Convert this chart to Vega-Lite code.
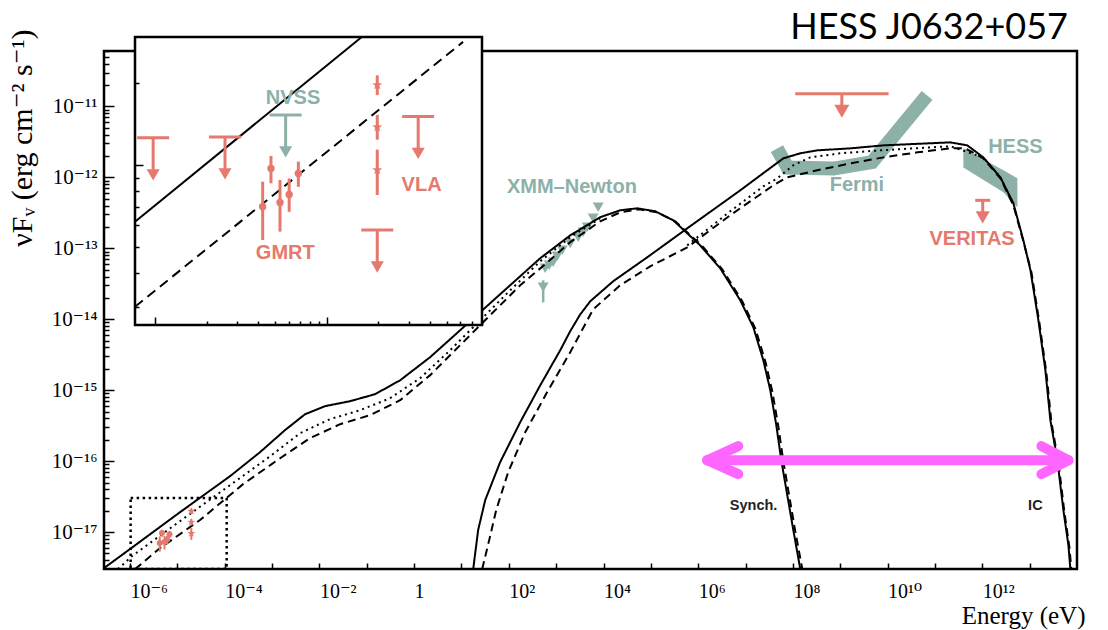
{
  "$schema": "https://vega.github.io/schema/vega-lite/v6.json",
  "width": 973,
  "height": 518,
  "autosize": "none",
  "padding": {"left": 104, "top": 51, "right": 31, "bottom": 61},
  "background": "white",
  "title": {"text": "HESS J0632+057", "anchor": "end", "frame": "group", "orient": "top", "offset": -46, "dx": -9, "fontSize": 36, "font": "Lato", "fontWeight": "normal", "color": "black", "baseline": "alphabetic"},
  "config": {
    "view": {"stroke": "black", "strokeWidth": 2.5},
    "axis": {"grid": false, "domain": false, "tickColor": "black", "labelColor": "black", "labelFont": "Liberation Serif, DejaVu Serif", "titleFont": "Liberation Serif, DejaVu Serif", "titleFontWeight": "normal", "titleColor": "black", "labelFlush": false, "labelOverlap": false, "labelBound": false}
  },
  "datasets": {
    "models": [
      {"comp": "synch", "style": "solid", "E": 2.82e-7, "F": 3.11e-18},
      {"comp": "synch", "style": "solid", "E": 1.00e-6, "F": 5.77e-18},
      {"comp": "synch", "style": "solid", "E": 1.14e-5, "F": 1.91e-17},
      {"comp": "synch", "style": "solid", "E": 1.30e-4, "F": 6.15e-17},
      {"comp": "synch", "style": "solid", "E": 5.58e-4, "F": 1.34e-16},
      {"comp": "synch", "style": "solid", "E": 1.88e-3, "F": 2.74e-16},
      {"comp": "synch", "style": "solid", "E": 4.98e-3, "F": 4.59e-16},
      {"comp": "synch", "style": "solid", "E": 1.32e-2, "F": 5.96e-16},
      {"comp": "synch", "style": "solid", "E": 4.45e-2, "F": 7.00e-16},
      {"comp": "synch", "style": "solid", "E": 0.150, "F": 8.79e-16},
      {"comp": "synch", "style": "solid", "E": 0.507, "F": 1.38e-15},
      {"comp": "synch", "style": "solid", "E": 2.18, "F": 2.92e-15},
      {"comp": "synch", "style": "solid", "E": 9.38, "F": 7.00e-15},
      {"comp": "synch", "style": "solid", "E": 65.6, "F": 2.25e-14},
      {"comp": "synch", "style": "solid", "E": 460, "F": 7.23e-14},
      {"comp": "synch", "style": "solid", "E": 1980, "F": 1.52e-13},
      {"comp": "synch", "style": "solid", "E": 8510, "F": 2.74e-13},
      {"comp": "synch", "style": "solid", "E": 2.25e4, "F": 3.43e-13},
      {"comp": "synch", "style": "solid", "E": 5.15e4, "F": 3.66e-13},
      {"comp": "synch", "style": "solid", "E": 1.24e5, "F": 3.32e-13},
      {"comp": "synch", "style": "solid", "E": 2.97e5, "F": 2.48e-13},
      {"comp": "synch", "style": "solid", "E": 1.10e6, "F": 1.10e-13},
      {"comp": "synch", "style": "solid", "E": 2.92e6, "F": 5.22e-14},
      {"comp": "synch", "style": "solid", "E": 7.73e6, "F": 1.85e-14},
      {"comp": "synch", "style": "solid", "E": 1.46e7, "F": 7.71e-15},
      {"comp": "synch", "style": "solid", "E": 2.37e7, "F": 2.65e-15},
      {"comp": "synch", "style": "solid", "E": 3.33e7, "F": 1.00e-15},
      {"comp": "synch", "style": "solid", "E": 4.46e7, "F": 3.21e-16},
      {"comp": "synch", "style": "solid", "E": 5.68e7, "F": 1.03e-16},
      {"comp": "synch", "style": "solid", "E": 7.60e7, "F": 3.32e-17},
      {"comp": "synch", "style": "solid", "E": 1.02e8, "F": 1.07e-17},
      {"comp": "synch", "style": "solid", "E": 1.43e8, "F": 3.01e-18},

      {"comp": "synch", "style": "dashed", "E": 1.28e-6, "F": 3.01e-18},
      {"comp": "synch", "style": "dashed", "E": 4.31e-6, "F": 5.96e-18},
      {"comp": "synch", "style": "dashed", "E": 3.01e-5, "F": 1.48e-17},
      {"comp": "synch", "style": "dashed", "E": 2.44e-4, "F": 4.74e-17},
      {"comp": "synch", "style": "dashed", "E": 1.48e-3, "F": 1.10e-16},
      {"comp": "synch", "style": "dashed", "E": 6.35e-3, "F": 2.11e-16},
      {"comp": "synch", "style": "dashed", "E": 2.74e-2, "F": 3.32e-16},
      {"comp": "synch", "style": "dashed", "E": 0.118, "F": 4.45e-16},
      {"comp": "synch", "style": "dashed", "E": 0.507, "F": 7.23e-16},
      {"comp": "synch", "style": "dashed", "E": 2.18, "F": 1.63e-15},
      {"comp": "synch", "style": "dashed", "E": 9.38, "F": 4.31e-15},
      {"comp": "synch", "style": "dashed", "E": 40.4, "F": 1.14e-14},
      {"comp": "synch", "style": "dashed", "E": 174, "F": 3.01e-14},
      {"comp": "synch", "style": "dashed", "E": 586, "F": 5.96e-14},
      {"comp": "synch", "style": "dashed", "E": 1980, "F": 1.22e-13},
      {"comp": "synch", "style": "dashed", "E": 8510, "F": 2.40e-13},
      {"comp": "synch", "style": "dashed", "E": 2.25e4, "F": 3.21e-13},
      {"comp": "synch", "style": "dashed", "E": 5.68e4, "F": 3.54e-13},
      {"comp": "synch", "style": "dashed", "E": 1.36e5, "F": 3.21e-13},
      {"comp": "synch", "style": "dashed", "E": 3.27e5, "F": 2.40e-13},
      {"comp": "synch", "style": "dashed", "E": 1.22e6, "F": 1.07e-13},
      {"comp": "synch", "style": "dashed", "E": 3.22e6, "F": 5.06e-14},
      {"comp": "synch", "style": "dashed", "E": 8.51e6, "F": 1.79e-14},
      {"comp": "synch", "style": "dashed", "E": 1.60e7, "F": 7.46e-15},
      {"comp": "synch", "style": "dashed", "E": 2.61e7, "F": 2.56e-15},
      {"comp": "synch", "style": "dashed", "E": 3.66e7, "F": 9.68e-16},
      {"comp": "synch", "style": "dashed", "E": 4.91e7, "F": 3.11e-16},
      {"comp": "synch", "style": "dashed", "E": 6.27e7, "F": 1.00e-16},
      {"comp": "synch", "style": "dashed", "E": 8.38e7, "F": 3.21e-17},
      {"comp": "synch", "style": "dashed", "E": 1.12e8, "F": 1.03e-17},
      {"comp": "synch", "style": "dashed", "E": 1.58e8, "F": 3.01e-18},

      {"comp": "synch", "style": "dotted", "E": 5.57e-7, "F": 3.01e-18},
      {"comp": "synch", "style": "dotted", "E": 1.10e-6, "F": 4.59e-18},
      {"comp": "synch", "style": "dotted", "E": 1.14e-5, "F": 1.43e-17},
      {"comp": "synch", "style": "dotted", "E": 1.30e-4, "F": 4.59e-17},
      {"comp": "synch", "style": "dotted", "E": 9.08e-4, "F": 1.17e-16},
      {"comp": "synch", "style": "dotted", "E": 3.91e-3, "F": 2.48e-16},
      {"comp": "synch", "style": "dotted", "E": 1.68e-2, "F": 3.91e-16},
      {"comp": "synch", "style": "dotted", "E": 7.24e-2, "F": 5.22e-16},
      {"comp": "synch", "style": "dotted", "E": 0.311, "F": 7.71e-16},
      {"comp": "synch", "style": "dotted", "E": 1.34, "F": 1.48e-15},
      {"comp": "synch", "style": "dotted", "E": 5.77, "F": 3.66e-15},
      {"comp": "synch", "style": "dotted", "E": 24.8, "F": 9.68e-15},
      {"comp": "synch", "style": "dotted", "E": 107, "F": 2.56e-14},
      {"comp": "synch", "style": "dotted", "E": 460, "F": 6.56e-14},
      {"comp": "synch", "style": "dotted", "E": 1980, "F": 1.43e-13},
      {"comp": "synch", "style": "dotted", "E": 8510, "F": 2.65e-13},

      {"comp": "ic", "style": "solid", "E": 17.7, "F": 3.01e-18},
      {"comp": "ic", "style": "solid", "E": 22.5, "F": 1.07e-17},
      {"comp": "ic", "style": "solid", "E": 31.7, "F": 2.82e-17},
      {"comp": "ic", "style": "solid", "E": 65.6, "F": 9.68e-17},
      {"comp": "ic", "style": "solid", "E": 174, "F": 3.54e-16},
      {"comp": "ic", "style": "solid", "E": 460, "F": 1.17e-15},
      {"comp": "ic", "style": "solid", "E": 1220, "F": 3.66e-15},
      {"comp": "ic", "style": "solid", "E": 1980, "F": 6.78e-15},
      {"comp": "ic", "style": "solid", "E": 3220, "F": 1.17e-14},
      {"comp": "ic", "style": "solid", "E": 5240, "F": 1.79e-14},
      {"comp": "ic", "style": "solid", "E": 1.60e4, "F": 3.43e-14},
      {"comp": "ic", "style": "solid", "E": 8.38e4, "F": 7.46e-14},
      {"comp": "ic", "style": "solid", "E": 5.86e5, "F": 1.91e-13},
      {"comp": "ic", "style": "solid", "E": 7.73e6, "F": 6.56e-13},
      {"comp": "ic", "style": "solid", "E": 2.88e7, "F": 1.26e-12},
      {"comp": "ic", "style": "solid", "E": 6.27e7, "F": 1.85e-12},
      {"comp": "ic", "style": "solid", "E": 1.43e8, "F": 2.18e-12},
      {"comp": "ic", "style": "solid", "E": 3.27e8, "F": 2.40e-12},
      {"comp": "ic", "style": "solid", "E": 1.63e9, "F": 2.56e-12},
      {"comp": "ic", "style": "solid", "E": 8.13e9, "F": 2.82e-12},
      {"comp": "ic", "style": "solid", "E": 2.11e11, "F": 3.11e-12},
      {"comp": "ic", "style": "solid", "E": 4.83e11, "F": 2.82e-12},
      {"comp": "ic", "style": "solid", "E": 1.05e12, "F": 1.91e-12},
      {"comp": "ic", "style": "solid", "E": 2.41e12, "F": 1.00e-12},
      {"comp": "ic", "style": "solid", "E": 4.53e12, "F": 4.31e-13},
      {"comp": "ic", "style": "solid", "E": 7.36e12, "F": 1.30e-13},
      {"comp": "ic", "style": "solid", "E": 1.04e13, "F": 4.90e-14},
      {"comp": "ic", "style": "solid", "E": 1.53e13, "F": 9.68e-15},
      {"comp": "ic", "style": "solid", "E": 2.15e13, "F": 1.91e-15},
      {"comp": "ic", "style": "solid", "E": 2.74e13, "F": 3.78e-16},
      {"comp": "ic", "style": "solid", "E": 3.85e13, "F": 1.03e-16},
      {"comp": "ic", "style": "solid", "E": 5.16e13, "F": 2.04e-17},
      {"comp": "ic", "style": "solid", "E": 6.58e13, "F": 6.56e-18},
      {"comp": "ic", "style": "solid", "E": 7.24e13, "F": 3.01e-18},

      {"comp": "ic", "style": "dashed", "E": 27.4, "F": 3.01e-18},
      {"comp": "ic", "style": "dashed", "E": 38.5, "F": 7.71e-18},
      {"comp": "ic", "style": "dashed", "E": 54.1, "F": 2.04e-17},
      {"comp": "ic", "style": "dashed", "E": 97.0, "F": 7.00e-17},
      {"comp": "ic", "style": "dashed", "E": 222, "F": 2.56e-16},
      {"comp": "ic", "style": "dashed", "E": 679, "F": 1.00e-15},
      {"comp": "ic", "style": "dashed", "E": 1980, "F": 3.43e-15},
      {"comp": "ic", "style": "dashed", "E": 6050, "F": 1.38e-14},
      {"comp": "ic", "style": "dashed", "E": 2.25e4, "F": 3.01e-14},
      {"comp": "ic", "style": "dashed", "E": 9.70e4, "F": 5.57e-14},
      {"comp": "ic", "style": "dashed", "E": 5.86e5, "F": 1.03e-13},
      {"comp": "ic", "style": "dashed", "E": 4.75e6, "F": 2.92e-13},
      {"comp": "ic", "style": "dashed", "E": 3.85e7, "F": 7.71e-13},
      {"comp": "ic", "style": "dashed", "E": 7.60e7, "F": 1.00e-12},
      {"comp": "ic", "style": "dashed", "E": 3.27e8, "F": 1.26e-12},
      {"comp": "ic", "style": "dashed", "E": 1.63e9, "F": 1.57e-12},
      {"comp": "ic", "style": "dashed", "E": 8.13e9, "F": 1.91e-12},
      {"comp": "ic", "style": "dashed", "E": 4.25e10, "F": 2.25e-12},
      {"comp": "ic", "style": "dashed", "E": 2.11e11, "F": 2.56e-12},
      {"comp": "ic", "style": "dashed", "E": 4.39e11, "F": 2.56e-12},
      {"comp": "ic", "style": "dashed", "E": 1.05e12, "F": 1.85e-12},
      {"comp": "ic", "style": "dashed", "E": 2.41e12, "F": 9.68e-13},
      {"comp": "ic", "style": "dashed", "E": 4.53e12, "F": 4.04e-13},
      {"comp": "ic", "style": "dashed", "E": 7.36e12, "F": 1.26e-13},
      {"comp": "ic", "style": "dashed", "E": 1.09e13, "F": 4.59e-14},
      {"comp": "ic", "style": "dashed", "E": 1.60e13, "F": 9.08e-15},
      {"comp": "ic", "style": "dashed", "E": 2.25e13, "F": 1.79e-15},
      {"comp": "ic", "style": "dashed", "E": 2.88e13, "F": 3.54e-16},
      {"comp": "ic", "style": "dashed", "E": 4.05e13, "F": 9.68e-17},
      {"comp": "ic", "style": "dashed", "E": 5.42e13, "F": 1.91e-17},
      {"comp": "ic", "style": "dashed", "E": 6.90e13, "F": 6.15e-18},
      {"comp": "ic", "style": "dashed", "E": 7.60e13, "F": 3.01e-18},

      {"comp": "ic", "style": "dotted", "E": 5.86e5, "F": 1.10e-13},
      {"comp": "ic", "style": "dotted", "E": 4.75e6, "F": 3.32e-13},
      {"comp": "ic", "style": "dotted", "E": 2.37e7, "F": 7.46e-13},
      {"comp": "ic", "style": "dotted", "E": 4.68e7, "F": 9.68e-13},
      {"comp": "ic", "style": "dotted", "E": 1.02e8, "F": 1.48e-12},
      {"comp": "ic", "style": "dotted", "E": 2.33e8, "F": 1.91e-12},
      {"comp": "ic", "style": "dotted", "E": 1.00e9, "F": 2.18e-12},
      {"comp": "ic", "style": "dotted", "E": 7.02e9, "F": 2.40e-12},
      {"comp": "ic", "style": "dotted", "E": 2.11e11, "F": 2.74e-12},
      {"comp": "ic", "style": "dotted", "E": 1.05e12, "F": 1.91e-12},
      {"comp": "ic", "style": "dotted", "E": 2.41e12, "F": 1.00e-12},
      {"comp": "ic", "style": "dotted", "E": 4.53e12, "F": 4.17e-13}
    ],
    "hess": [
      {"E": 3.98e11, "F": 2.56e-12, "F2": 1.38e-12},
      {"E": 2.79e12, "F": 1.26e-12, "F2": 6.15e-13},
      {"E": 5.51e12, "F": 9.68e-13, "F2": 3.78e-13}
    ],
    "fermi": [
      {"E": 4.60e7, "F": 2.54e-12},
      {"E": 7.73e7, "F": 1.37e-12},
      {"E": 7.24e8, "F": 1.33e-12},
      {"E": 4.69e9, "F": 1.64e-12},
      {"E": 6.81e10, "F": 1.43e-11}
    ],
    "xmm": [
      {"E": 7730, "F": 3.78e-13},
      {"E": 6050, "F": 2.65e-13},
      {"E": 4530, "F": 1.98e-13},
      {"E": 3720, "F": 1.68e-13},
      {"E": 2920, "F": 1.43e-13},
      {"E": 1980, "F": 1.17e-13},
      {"E": 1340, "F": 9.38e-14},
      {"E": 1050, "F": 7.71e-14},
      {"E": 865, "F": 6.35e-14},
      {"E": 713, "F": 5.77e-14},
      {"E": 586, "F": 5.22e-14},
      {"E": 532, "F": 2.83e-14, "lo": 1.73e-14, "hi": 3.54e-14}
    ],
    "fermiul": [{"E": 1.08e9, "Emin": 1.12e8, "Emax": 1.05e10, "F": 1.51e-11}],
    "veritasul": [{"E": 1.02e12, "F": 4.74e-13}],
    "gmrt": [
      {"E": 4.24e-6, "F": 7.03e-18, "lo": 5.30e-18, "hi": 8.69e-18},
      {"E": 4.74e-6, "F": 9.72e-18, "lo": 8.57e-18, "hi": 1.08e-17},
      {"E": 5.35e-6, "F": 7.29e-18, "lo": 5.69e-18, "hi": 8.81e-18},
      {"E": 6.05e-6, "F": 7.80e-18, "lo": 6.73e-18, "hi": 8.93e-18},
      {"E": 6.84e-6, "F": 9.31e-18, "lo": 8.32e-18, "hi": 1.03e-17}
    ],
    "vla": [
      {"E": 1.97e-5, "F": 1.97e-17, "lo": 1.81e-17, "hi": 2.14e-17},
      {"E": 1.97e-5, "F": 1.38e-17, "lo": 1.24e-17, "hi": 1.53e-17},
      {"E": 1.97e-5, "F": 9.59e-18, "lo": 7.76e-18, "hi": 1.14e-17}
    ],
    "radioul": [
      {"E": 9.77e-7, "F": 1.26e-17, "src": "GMRT"},
      {"E": 2.56e-6, "F": 1.27e-17, "src": "GMRT"},
      {"E": 5.77e-6, "F": 1.53e-17, "src": "NVSS"},
      {"E": 3.41e-5, "F": 1.51e-17, "src": "VLA"},
      {"E": 1.97e-5, "F": 5.77e-18, "src": "VLA"}
    ],
    "zoombox": [{"E": 1.03e-6, "E2": 1.10e-4, "F": 3.02e-18, "F2": 3.02e-17}],
    "insetbox": [{"E": 7.66e-7, "E2": 8.02e-5, "F": 2.58e-18, "F2": 2.96e-17}],
    "insetlines": [
      {"style": "solid", "E": 7.66e-7, "F": 6.19e-18},
      {"style": "solid", "E": 1.60e-5, "F": 2.96e-17},
      {"style": "dashed", "E": 7.66e-7, "F": 3.01e-18},
      {"style": "dashed", "E": 6.22e-5, "F": 2.84e-17}
    ],
    "arrow": [
      {"part": "shaft", "E": 1.55e6, "F": 1.03e-16},
      {"part": "shaft", "E": 6.58e13, "F": 1.03e-16},
      {"part": "L1", "E": 1.55e6, "F": 1.03e-16},
      {"part": "L1", "E": 7.02e6, "F": 1.63e-16},
      {"part": "L2", "E": 1.55e6, "F": 1.03e-16},
      {"part": "L2", "E": 7.02e6, "F": 6.56e-17},
      {"part": "R1", "E": 1.77e13, "F": 1.63e-16},
      {"part": "R1", "E": 6.58e13, "F": 1.03e-16},
      {"part": "R2", "E": 1.77e13, "F": 6.56e-17},
      {"part": "R2", "E": 6.58e13, "F": 1.03e-16}
    ],
    "labels": [
      {"text": "XMM–Newton", "E": 2150, "F": 7.30e-13, "src": "XMM–Newton"},
      {"text": "Fermi", "E": 2.25e9, "F": 7.71e-13, "src": "Fermi"},
      {"text": "HESS", "E": 5.00e12, "F": 2.67e-12, "src": "HESS"},
      {"text": "VERITAS", "E": 6.08e11, "F": 1.37e-13, "src": "VERITAS"}
    ],
    "modellabels": [
      {"text": "Synch.", "E": 1.48e7, "F": 2.32e-17},
      {"text": "IC", "E": 1.32e13, "F": 2.32e-17}
    ],
    "insetlabels": [
      {"text": "NVSS", "E": 6.37e-6, "F": 1.76e-17, "src": "NVSS"},
      {"text": "GMRT", "E": 5.74e-6, "F": 4.73e-18, "src": "GMRT"},
      {"text": "VLA", "E": 3.57e-5, "F": 8.44e-18, "src": "VLA"}
    ]
  },
  "layer": [
    {
      "encoding": {
        "x": {"field": "E", "type": "quantitative", "scale": {"type": "log", "domain": [2.82e-7, 1e14], "nice": false}, "axis": null},
        "y": {"field": "F", "type": "quantitative", "scale": {"type": "log", "domain": [3.02e-18, 6.03e-11], "nice": false}, "axis": null}
      },
      "resolve": {"axis": {"x": "independent", "y": "independent"}},
      "layer": [
        {
          "data": {"name": "hess"},
          "mark": {"type": "area", "color": "#8DB1A9", "opacity": 1, "clip": true},
          "encoding": {"y2": {"field": "F2"}}
        },
        {
          "data": {"name": "fermi"},
          "mark": {"type": "line", "color": "#8DB1A9", "strokeWidth": 14, "strokeJoin": "miter", "strokeCap": "butt", "clip": true},
          "encoding": {
            "y": {"field": "F", "type": "quantitative", "scale": {"type": "log", "domain": [3.02e-18, 6.03e-11], "nice": false},
              "axis": {"orient": "left", "values": [4e-18, 5e-18, 6e-18, 7e-18, 8e-18, 9e-18, 2e-17, 3e-17, 4e-17, 5e-17, 6e-17, 7e-17, 8e-17, 9e-17, 2e-16, 3e-16, 4e-16, 5e-16, 6e-16, 7e-16, 8e-16, 9e-16, 2e-15, 3e-15, 4e-15, 5e-15, 6e-15, 7e-15, 8e-15, 9e-15, 2e-14, 3e-14, 4e-14, 5e-14, 6e-14, 7e-14, 8e-14, 9e-14, 2e-13, 3e-13, 4e-13, 5e-13, 6e-13, 7e-13, 8e-13, 9e-13, 2e-12, 3e-12, 4e-12, 5e-12, 6e-12, 7e-12, 8e-12, 9e-12, 2e-11, 3e-11, 4e-11, 5e-11, 6e-11], "tickSize": -5, "tickWidth": 1.5, "labels": false, "title": null}}
          }
        },
        {
          "data": {"name": "zoombox"},
          "mark": {"type": "rect", "fill": null, "stroke": "black", "strokeWidth": 2.5, "strokeDash": [2.5, 3.5], "clip": true},
          "encoding": {"x2": {"field": "E2"}, "y2": {"field": "F2"}}
        },
        {
          "data": {"name": "xmm"},
          "transform": [{"filter": "isValid(datum.hi)"}],
          "mark": {"type": "rule", "color": "#8DB1A9", "strokeWidth": 2.5},
          "encoding": {"y2": {"field": "hi"}}
        },
        {
          "data": {"name": "xmm"},
          "transform": [{"filter": "isValid(datum.lo)"}],
          "mark": {"type": "rule", "color": "#8DB1A9", "strokeWidth": 2.5},
          "encoding": {"y2": {"field": "lo"}}
        },
        {
          "data": {"name": "xmm"},
          "mark": {"type": "point", "shape": "triangle-down", "filled": true, "color": "#8DB1A9", "size": 120, "opacity": 1}
        },
        {
          "data": {"name": "models"},
          "mark": {"type": "line", "color": "black", "strokeWidth": 2, "clip": true},
          "encoding": {
            "x": {"field": "E", "type": "quantitative", "scale": {"type": "log", "domain": [2.82e-7, 1e14], "nice": false},
              "axis": {"orient": "bottom", "values": [1e-6, 1e-5, 1e-4, 1e-3, 1e-2, 1e-1, 1, 10, 100, 1e3, 1e4, 1e5, 1e6, 1e7, 1e8, 1e9, 1e10, 1e11, 1e12, 1e13],
                "labelExpr": "(round(log(datum.value)/LN10) % 2 == 0) ? ['10⁻⁶','10⁻⁴','10⁻²','1','10²','10⁴','10⁶','10⁸','10¹⁰','10¹²'][(round(log(datum.value)/LN10)+6)/2] : ''",
                "tickSize": -6, "tickWidth": 1.5, "labelPadding": 34, "labelFontSize": 20, "labelAlign": "left", "labelDx": -10, "labelBaseline": "alphabetic",
                "title": "Energy (eV)", "titleFontSize": 25, "titleAnchor": "end", "titleAlign": "right", "titleX": 981, "titleY": 54, "titleBaseline": "alphabetic"}},
            "y": {"field": "F", "type": "quantitative", "scale": {"type": "log", "domain": [3.02e-18, 6.03e-11], "nice": false},
              "axis": {"orient": "left", "values": [1e-17, 1e-16, 1e-15, 1e-14, 1e-13, 1e-12, 1e-11],
                "labelExpr": "['10⁻¹⁷','10⁻¹⁶','10⁻¹⁵','10⁻¹⁴','10⁻¹³','10⁻¹²','10⁻¹¹'][round(log(datum.value)/LN10)+17]",
                "tickSize": -10, "tickWidth": 1.5, "labelPadding": 17, "labelFontSize": 21, "labelAlign": "right", "labelBaseline": "middle",
                "title": "νFᵥ (erg cm⁻² s⁻¹)", "titleFontSize": 30, "titleAnchor": "end", "titleAngle": -90, "titleX": -73, "titleY": -22, "titleBaseline": "alphabetic"}},
            "strokeDash": {"field": "style", "type": "nominal", "scale": {"domain": ["solid", "dashed", "dotted"], "range": [[1, 0], [8, 5], [2, 4]]}, "legend": null},
            "detail": {"field": "comp"}
          }
        },
        {
          "data": {"name": "fermiul"},
          "mark": {"type": "rule", "color": "#E5796D", "strokeWidth": 3},
          "encoding": {"x2": {"field": "Emin"}}
        },
        {
          "data": {"name": "fermiul"},
          "mark": {"type": "rule", "color": "#E5796D", "strokeWidth": 3},
          "encoding": {"x2": {"field": "Emax"}}
        },
        {
          "data": {"name": "fermiul"},
          "mark": {"type": "tick", "orient": "vertical", "size": 12, "thickness": 3, "yOffset": 6, "color": "#E5796D", "opacity": 1}
        },
        {
          "data": {"name": "fermiul"},
          "mark": {"type": "point", "shape": "triangle-down", "filled": true, "size": 225, "yOffset": 17.5, "color": "#E5796D", "opacity": 1}
        },
        {
          "data": {"name": "veritasul"},
          "mark": {"type": "tick", "orient": "horizontal", "size": 15, "thickness": 3, "color": "#E5796D", "opacity": 1}
        },
        {
          "data": {"name": "veritasul"},
          "mark": {"type": "tick", "orient": "vertical", "size": 12, "thickness": 3, "yOffset": 6, "color": "#E5796D", "opacity": 1}
        },
        {
          "data": {"name": "veritasul"},
          "mark": {"type": "point", "shape": "triangle-down", "filled": true, "size": 200, "yOffset": 17, "color": "#E5796D", "opacity": 1}
        },
        {
          "data": {"name": "gmrt"},
          "mark": {"type": "rule", "color": "#E5796D", "strokeWidth": 2},
          "encoding": {"y2": {"field": "hi"}}
        },
        {
          "data": {"name": "gmrt"},
          "mark": {"type": "rule", "color": "#E5796D", "strokeWidth": 2},
          "encoding": {"y2": {"field": "lo"}}
        },
        {
          "data": {"name": "gmrt"},
          "mark": {"type": "point", "shape": "circle", "filled": true, "size": 35, "color": "#E5796D", "opacity": 1}
        },
        {
          "data": {"name": "vla"},
          "mark": {"type": "rule", "color": "#E5796D", "strokeWidth": 2},
          "encoding": {"y2": {"field": "hi"}}
        },
        {
          "data": {"name": "vla"},
          "mark": {"type": "rule", "color": "#E5796D", "strokeWidth": 2},
          "encoding": {"y2": {"field": "lo"}}
        },
        {
          "data": {"name": "vla"},
          "mark": {"type": "point", "shape": "M0,-1L0.235,-0.324L0.951,-0.309L0.38,0.124L0.588,0.809L0,0.4L-0.588,0.809L-0.38,0.124L-0.951,-0.309L-0.235,-0.324Z", "filled": true, "size": 70, "color": "#E5796D", "opacity": 1}
        },
        {
          "data": {"name": "arrow"},
          "mark": {"type": "line", "color": "#FF66FF", "strokeWidth": 10, "strokeCap": "round"},
          "encoding": {"detail": {"field": "part"}}
        },
        {
          "data": {"name": "labels"},
          "mark": {"type": "text", "font": "Liberation Sans", "fontWeight": "bold", "fontSize": 20, "align": "center", "baseline": "middle"},
          "encoding": {
            "text": {"field": "text"},
            "color": {"field": "src", "type": "nominal", "scale": {"domain": ["GMRT", "VLA", "NVSS", "XMM–Newton", "Fermi", "HESS", "VERITAS"], "range": ["#E5796D", "#E5796D", "#8DB1A9", "#8DB1A9", "#8DB1A9", "#8DB1A9", "#E5796D"]}, "legend": null}
          }
        },
        {
          "data": {"name": "modellabels"},
          "mark": {"type": "text", "font": "Liberation Sans", "fontWeight": "bold", "fontSize": 14.5, "align": "center", "baseline": "middle", "color": "#222222"},
          "encoding": {"text": {"field": "text"}}
        }
      ]
    },
    {
      "encoding": {
        "x": {"field": "E", "type": "quantitative", "scale": {"type": "log", "domain": [7.66e-7, 8.02e-5], "nice": false, "range": [31, 378]}, "axis": null},
        "y": {"field": "F", "type": "quantitative", "scale": {"type": "log", "domain": [2.58e-18, 2.96e-17], "nice": false, "range": [274, -14]}, "axis": null}
      },
      "resolve": {"axis": {"x": "independent", "y": "independent"}},
      "layer": [
        {
          "data": {"name": "insetbox"},
          "mark": {"type": "rect", "fill": "white", "stroke": "black", "strokeWidth": 2.5},
          "encoding": {"x2": {"field": "E2"}, "y2": {"field": "F2"}}
        },
        {
          "data": {"name": "insetlines"},
          "transform": [{"filter": "datum.style == 'solid'"}],
          "mark": {"type": "line", "color": "black", "strokeWidth": 2}
        },
        {
          "data": {"name": "insetlines"},
          "transform": [{"filter": "datum.style == 'dashed'"}],
          "mark": {"type": "line", "color": "black", "strokeWidth": 2, "strokeDash": [10, 6]}
        },
        {
          "data": {"name": "radioul"},
          "mark": {"type": "tick", "orient": "horizontal", "size": 32, "thickness": 3, "opacity": 1},
          "encoding": {"color": {"field": "src", "type": "nominal", "scale": {"domain": ["GMRT", "VLA", "NVSS", "XMM–Newton", "Fermi", "HESS", "VERITAS"], "range": ["#E5796D", "#E5796D", "#8DB1A9", "#8DB1A9", "#8DB1A9", "#8DB1A9", "#E5796D"]}, "legend": null}}
        },
        {
          "data": {"name": "radioul"},
          "mark": {"type": "tick", "orient": "vertical", "size": 32, "thickness": 3, "yOffset": 16, "opacity": 1},
          "encoding": {"color": {"field": "src", "type": "nominal", "scale": {"domain": ["GMRT", "VLA", "NVSS", "XMM–Newton", "Fermi", "HESS", "VERITAS"], "range": ["#E5796D", "#E5796D", "#8DB1A9", "#8DB1A9", "#8DB1A9", "#8DB1A9", "#E5796D"]}, "legend": null}}
        },
        {
          "data": {"name": "radioul"},
          "mark": {"type": "point", "shape": "triangle-down", "filled": true, "size": 170, "yOffset": 37, "opacity": 1},
          "encoding": {"color": {"field": "src", "type": "nominal", "scale": {"domain": ["GMRT", "VLA", "NVSS", "XMM–Newton", "Fermi", "HESS", "VERITAS"], "range": ["#E5796D", "#E5796D", "#8DB1A9", "#8DB1A9", "#8DB1A9", "#8DB1A9", "#E5796D"]}, "legend": null}}
        },
        {
          "data": {"name": "gmrt"},
          "mark": {"type": "rule", "color": "#E5796D", "strokeWidth": 3},
          "encoding": {"y2": {"field": "hi"}}
        },
        {
          "data": {"name": "gmrt"},
          "mark": {"type": "rule", "color": "#E5796D", "strokeWidth": 3},
          "encoding": {"y2": {"field": "lo"}}
        },
        {
          "data": {"name": "gmrt"},
          "mark": {"type": "point", "shape": "circle", "filled": true, "size": 55, "color": "#E5796D", "opacity": 1},
          "encoding": {
            "x": {"field": "E", "type": "quantitative", "scale": {"type": "log", "domain": [7.66e-7, 8.02e-5], "nice": false, "range": [31, 378]},
              "axis": {"orient": "bottom", "offset": -244, "values": [1e-6, 1e-5], "tickSize": -8, "tickWidth": 1.5, "labels": false, "title": null, "zindex": 2}},
            "y": {"field": "F", "type": "quantitative", "scale": {"type": "log", "domain": [2.58e-18, 2.96e-17], "nice": false, "range": [274, -14]},
              "axis": {"orient": "left", "offset": -31, "values": [1e-17], "tickSize": -8, "tickWidth": 1.5, "labels": false, "title": null, "zindex": 2}}
          }
        },
        {
          "data": {"name": "vla"},
          "mark": {"type": "rule", "color": "#E5796D", "strokeWidth": 3},
          "encoding": {"y2": {"field": "hi"}}
        },
        {
          "data": {"name": "vla"},
          "mark": {"type": "rule", "color": "#E5796D", "strokeWidth": 3},
          "encoding": {"y2": {"field": "lo"}}
        },
        {
          "data": {"name": "vla"},
          "mark": {"type": "point", "shape": "M0,-1L0.235,-0.324L0.951,-0.309L0.38,0.124L0.588,0.809L0,0.4L-0.588,0.809L-0.38,0.124L-0.951,-0.309L-0.235,-0.324Z", "filled": true, "size": 110, "color": "#E5796D", "opacity": 1},
          "encoding": {
            "x": {"field": "E", "type": "quantitative", "scale": {"type": "log", "domain": [7.66e-7, 8.02e-5], "nice": false, "range": [31, 378]},
              "axis": {"orient": "bottom", "offset": -244, "values": [2e-6, 3e-6, 4e-6, 5e-6, 6e-6, 7e-6, 8e-6, 9e-6, 2e-5, 3e-5, 4e-5, 5e-5, 6e-5, 7e-5, 8e-5], "tickSize": -4, "tickWidth": 1.5, "labels": false, "title": null, "zindex": 2}},
            "y": {"field": "F", "type": "quantitative", "scale": {"type": "log", "domain": [2.58e-18, 2.96e-17], "nice": false, "range": [274, -14]},
              "axis": {"orient": "left", "offset": -31, "values": [3e-18, 4e-18, 5e-18, 6e-18, 7e-18, 8e-18, 9e-18, 2e-17], "tickSize": -4, "tickWidth": 1.5, "labels": false, "title": null, "zindex": 2}}
          }
        },
        {
          "data": {"name": "insetlabels"},
          "mark": {"type": "text", "font": "Liberation Sans", "fontWeight": "bold", "fontSize": 20, "align": "center", "baseline": "middle"},
          "encoding": {
            "text": {"field": "text"},
            "color": {"field": "src", "type": "nominal", "scale": {"domain": ["GMRT", "VLA", "NVSS", "XMM–Newton", "Fermi", "HESS", "VERITAS"], "range": ["#E5796D", "#E5796D", "#8DB1A9", "#8DB1A9", "#8DB1A9", "#8DB1A9", "#E5796D"]}, "legend": null}
          }
        }
      ]
    }
  ],
  "resolve": {"scale": {"x": "independent", "y": "independent"}, "axis": {"x": "independent", "y": "independent"}}
}
